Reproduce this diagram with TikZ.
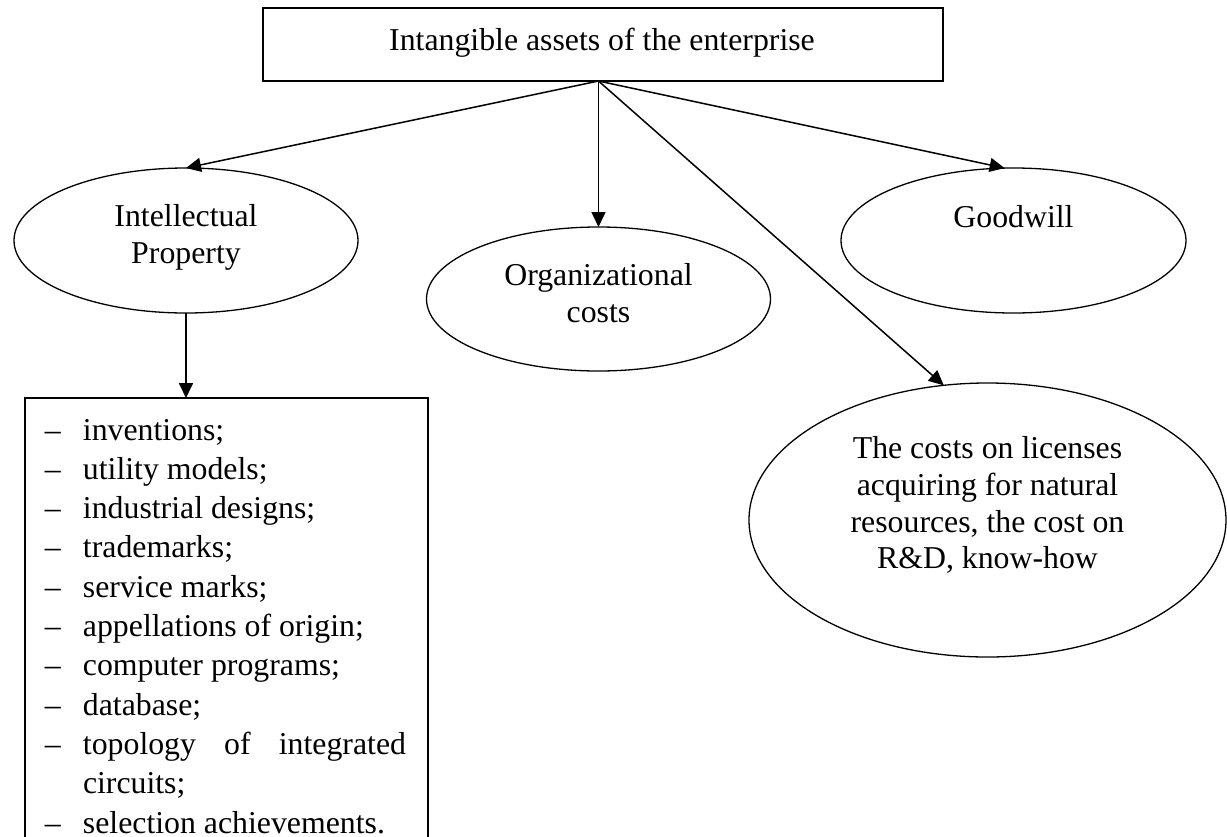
\documentclass[tikz,border=0pt]{standalone}
\usepackage{fontspec}
\setmainfont{Liberation Serif}
\usetikzlibrary{arrows.meta,shapes.geometric,calc}
\newcommand\lidash{\makebox[38pt][l]{–}}
\begin{document}
\begin{tikzpicture}[x=1pt,y=-1pt,
  every node/.style={outer sep=0pt},
  txt/.style={anchor=base,inner sep=0pt,font=\fontsize{31.8}{37}\selectfont},
  item/.style={txt,anchor=base west},
  oval/.style={draw,ellipse,line width=1.3pt,inner sep=0pt},
  boxx/.style={draw,rectangle,line width=1.6pt,inner sep=0pt},
  conn/.style={line width=1.5pt,-{Triangle[length=15pt,width=14pt]}}]
\useasboundingbox (0,0) rectangle (1227,836);
\fill[white] (0,0) rectangle (1227,836);
\clip (0,0) rectangle (1227,836);
% top box
\node[boxx,minimum width=680pt,minimum height=73pt] (top) at (603,44.5) {};
\node[txt] (toptxt) at (602,50) {Intangible assets of the enterprise};
\coordinate (src) at ($(top.south)+(-4.5,0)$);
% ellipses
\node[oval,minimum width=344pt,minimum height=145pt] (ip) at (186,240.5) {};
\node[txt] (ip1) at (186,226) {Intellectual};
\node[txt] (ip2) at (186,263) {Property};
\node[oval,minimum width=344pt,minimum height=144pt] (org) at (598.5,299) {};
\node[txt] (org1) at (598.5,285) {Organizational};
\node[txt] (org2) at (598.5,322) {costs};
\node[oval,minimum width=345pt,minimum height=145pt] (gw) at (1013.5,240.5) {};
\node[txt] (gw1) at (1013.5,227) {Goodwill};
\node[oval,minimum width=477pt,minimum height=274pt] (lic) at (987.5,520) {};
\node[txt] (lic1) at (987.5,458) {The costs on licenses};
\node[txt] (lic2) at (987.5,495) {acquiring for natural};
\node[txt] (lic3) at (987.5,532) {resources, the cost on};
\node[txt] (lic4) at (987.5,568) {R\&D, know-how};
% list box
\node[boxx,minimum width=403pt,minimum height=500pt,anchor=north] (list) at (226.5,398) {};
\node[item] (l1) at (45,440) {\lidash inventions;};
\node[item] (l2) at (45,479.3) {\lidash utility models;};
\node[item] (l3) at (45,518.6) {\lidash industrial designs;};
\node[item] (l4) at (45,557.9) {\lidash trademarks;};
\node[item] (l5) at (45,597.2) {\lidash service marks;};
\node[item] (l6) at (45,636.5) {\lidash appellations of origin;};
\node[item] (l7) at (45,675.8) {\lidash computer programs;};
\node[item] (l8) at (45,715.1) {\lidash database;};
\node[item] (l9) at (45,754.4) {\lidash\makebox[323pt]{topology\hfill of\hfill integrated}};
\node[item] (l10) at (83,793.7) {circuits;};
\node[item] (l11) at (45,833) {\lidash selection achievements.};
% connectors
\draw[conn] (src) -- (ip.north);
\draw[conn] (src) -- (org.north);
\draw[conn] (src) -- (gw.97);
\draw[conn] (src) -- (lic.108);
\draw[conn,line width=1.8pt] (ip.south) -- (ip.south |- list.north);
\end{tikzpicture}
\end{document}
